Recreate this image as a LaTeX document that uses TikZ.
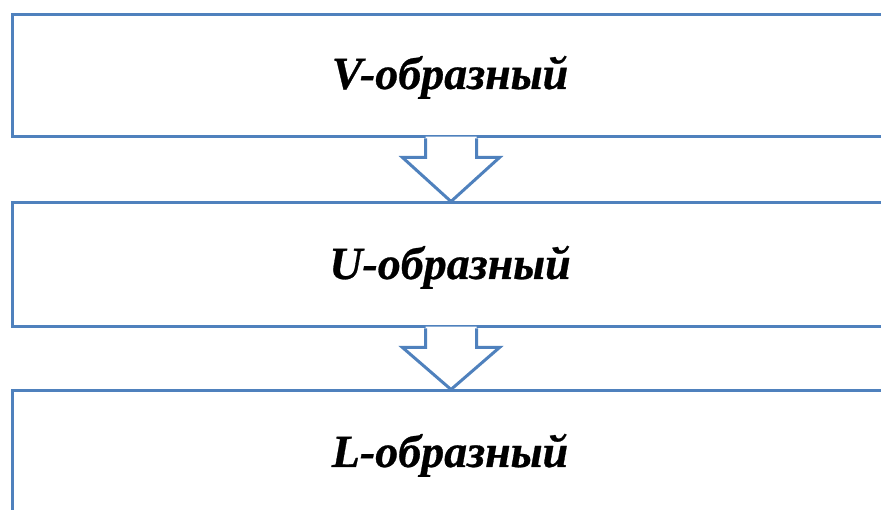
\documentclass[tikz,border=0pt]{standalone}
\usepackage{fontspec}
\setmainfont{Liberation Serif}
\newfontfamily\lbfi{Liberation Serif Bold Italic}[FakeBold=0.6]
\usetikzlibrary{calc}
\definecolor{boxblue}{HTML}{4F81BD}
\tikzset{
  boxnode/.style={draw=boxblue, line width=3pt, rectangle, minimum width=876pt, inner sep=0pt},
  lbl/.style={anchor=base, inner sep=0pt, font=\lbfi\fontsize{46}{50}\selectfont},
  arrowline/.style={draw=boxblue, line width=3pt, line join=miter},
}
\begin{document}
\begin{tikzpicture}[x=1pt,y=-1pt]
\path[use as bounding box, clip] (0,0) rectangle (881,510);
\fill[white] (0,0) rectangle (881,510);
\node[boxnode, minimum height=122pt] (b1) at (450,76) {};
\node[boxnode, minimum height=124pt] (b2) at (450,265) {};
\node[boxnode, minimum height=250pt] (b3) at (450,516) {};
\node[lbl] (t1) at (450,89) {V-образный};
\node[lbl] (t2) at (450,279) {U-образный};
\node[lbl] (t3) at (450,467) {L-образный};
% arrow 1
\coordinate (a1) at ($(b1.south)+(1,0)$);
\fill[white] ($(a1)+(-25.5,-1.9)$) -- ($(a1)+(-25.5,19)$) -- ($(a1)+(-48.5,19)$) -- ($(b2.north)+(1,0)$) -- ($(a1)+(48.5,19)$) -- ($(a1)+(25.5,19)$) -- ($(a1)+(25.5,-1.9)$) -- cycle;
\draw[arrowline] ($(a1)+(-25.5,0)$) -- ($(a1)+(-25.5,19)$) -- ($(a1)+(-48.5,19)$) -- ($(b2.north)+(1,0)$) -- ($(a1)+(48.5,19)$) -- ($(a1)+(25.5,19)$) -- ($(a1)+(25.5,0)$);
% arrow 2
\coordinate (a2) at ($(b2.south)+(1,0)$);
\fill[white] ($(a2)+(-25.5,-1.9)$) -- ($(a2)+(-25.5,19)$) -- ($(a2)+(-48.5,19)$) -- ($(b3.north)+(1,0)$) -- ($(a2)+(48.5,19)$) -- ($(a2)+(25.5,19)$) -- ($(a2)+(25.5,-1.9)$) -- cycle;
\draw[arrowline] ($(a2)+(-25.5,0)$) -- ($(a2)+(-25.5,19)$) -- ($(a2)+(-48.5,19)$) -- ($(b3.north)+(1,0)$) -- ($(a2)+(48.5,19)$) -- ($(a2)+(25.5,19)$) -- ($(a2)+(25.5,0)$);
\end{tikzpicture}
\end{document}
